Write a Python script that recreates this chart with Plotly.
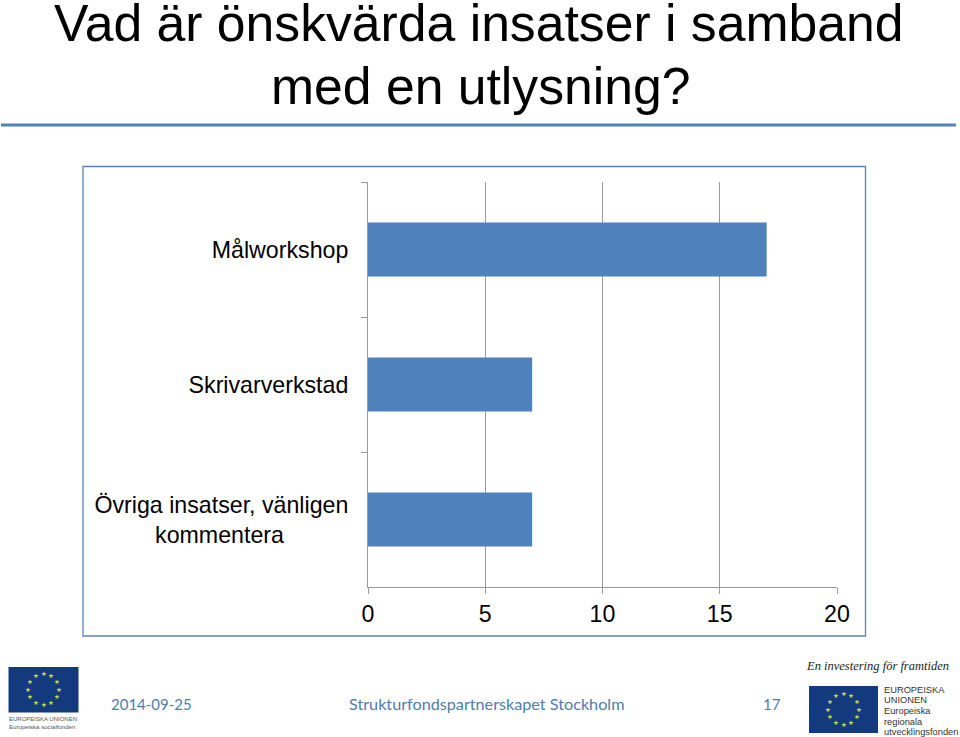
import math
import plotly.graph_objects as go

NB = "\u00a0"
categories = ["Målworkshop", "Skrivarverkstad", "Övriga insatser, vänligen<br>kommentera" + NB * 10]
values = [17, 7, 7]
x_ticks = [0, 5, 10, 15, 20]
title_lines = ["Vad är önskvärda insatser i samband", "med en utlysning?"]
footer_date = "2014-09-25"
footer_text = "Strukturfondspartnerskapet Stockholm"
footer_page = "17"

W, H = 960, 737
BLUE = "#4F81BD"
GREY = "#9A9A9A"
DARK_FLAG = "#123A7C"
STAR = "#C9D84A"

def px(x):
    return x / W

def py(y):
    return 1 - y / H

fig = go.Figure(go.Bar(
    y=categories, x=values, orientation="h",
    marker=dict(color=BLUE, line=dict(width=0)),
    width=0.4, hoverinfo="skip",
))

shapes = []
annotations = []

def text(x, y, s, size, color="#000000", family="Liberation Sans", anchor="center", style=None):
    font = dict(size=size, color=color, family=family)
    if style:
        font["style"] = style
    annotations.append(dict(x=px(x), y=py(y), xref="paper", yref="paper", text=s, showarrow=False,
                            xanchor=anchor, yanchor="middle", font=font))

def rect(x0, y0, x1, y1, fill=None, line=None, lw=0):
    shapes.append(dict(type="rect", xref="paper", yref="paper",
                       x0=px(x0), x1=px(x1), y0=py(y0), y1=py(y1),
                       fillcolor=fill or "rgba(0,0,0,0)",
                       line=dict(color=line or "rgba(0,0,0,0)", width=lw), layer="below"))

def flag(x0, y0, x1, y1):
    rect(x0, y0, x1, y1, fill=DARK_FLAG)
    cx, cy = (x0 + x1) / 2, (y0 + y1) / 2
    r = (y1 - y0) * 0.34
    for i in range(12):
        a = math.radians(i * 30)
        text(cx + r * math.sin(a), cy - r * math.cos(a), "★", 6.5, color=STAR, family="DejaVu Sans")

# Title and rule
text(478.5, 22.5, title_lines[0], 51.7)
text(480.5, 86, title_lines[1], 51.7)
rect(1, 123.5, 956, 126.5, fill=BLUE)

# Chart frame
rect(83, 166.5, 865.5, 636, line="#5B84B1", lw=1.3)

# Footer
text(151, 703.5, footer_date, 15, color="#4F7CAC", family="Lato")
text(486.5, 703.5, footer_text, 16.2, color="#4F7CAC", family="Lato")
text(772, 703.5, footer_page, 15, color="#4F7CAC", family="Lato")

# Left logo
flag(8.5, 667, 78.5, 712.5)
text(6.5, 719, "EUROPEISKA UNIONEN", 6, color="#555555", anchor="left")
text(6.5, 726.5, "Europeiska socialfonden", 6.1, color="#555555", anchor="left")

# Right logo
text(877, 666, "En investering för framtiden", 12.5, color="#222222", family="Liberation Serif", style="italic")
flag(809, 686, 878, 733)
for yy, s in zip([690, 700, 711, 722, 732],
                 ["EUROPEISKA", "UNIONEN", "Europeiska", "regionala", "utvecklingsfonden"]):
    text(882, yy, s, 9.3, color="#333333", anchor="left")

fig.update_layout(
    width=W, height=H,
    margin=dict(l=0, r=0, t=0, b=0),
    paper_bgcolor="white", plot_bgcolor="white",
    showlegend=False,
    shapes=shapes, annotations=annotations,
    xaxis=dict(domain=[px(368), px(837)], range=[0, 20], tickvals=x_ticks, automargin=False,
               showgrid=True, gridcolor=GREY, gridwidth=1, zeroline=False,
               showline=True, linecolor=GREY, linewidth=1,
               ticks="outside", ticklen=6, tickcolor=GREY, tickwidth=1,
               tickfont=dict(size=23.2, color="#000000", family="Liberation Sans"),
               ticklabelstandoff=0),
    yaxis=dict(domain=[py(587), py(182)], autorange=False, range=[2.5, -0.5], automargin=False,
               type="category", categoryorder="array", categoryarray=categories,
               tickson="boundaries", ticks="outside", ticklen=6, tickcolor=GREY, tickwidth=1,
               showgrid=False, zeroline=False, showline=True, linecolor=GREY, linewidth=1,
               tickfont=dict(size=23.2, color="#000000", family="Liberation Sans"),
               ticklabelstandoff=14),
)

fig.write_html("out.html", config=dict(displayModeBar=False),
               post_script="document.body.style.margin='0';")
